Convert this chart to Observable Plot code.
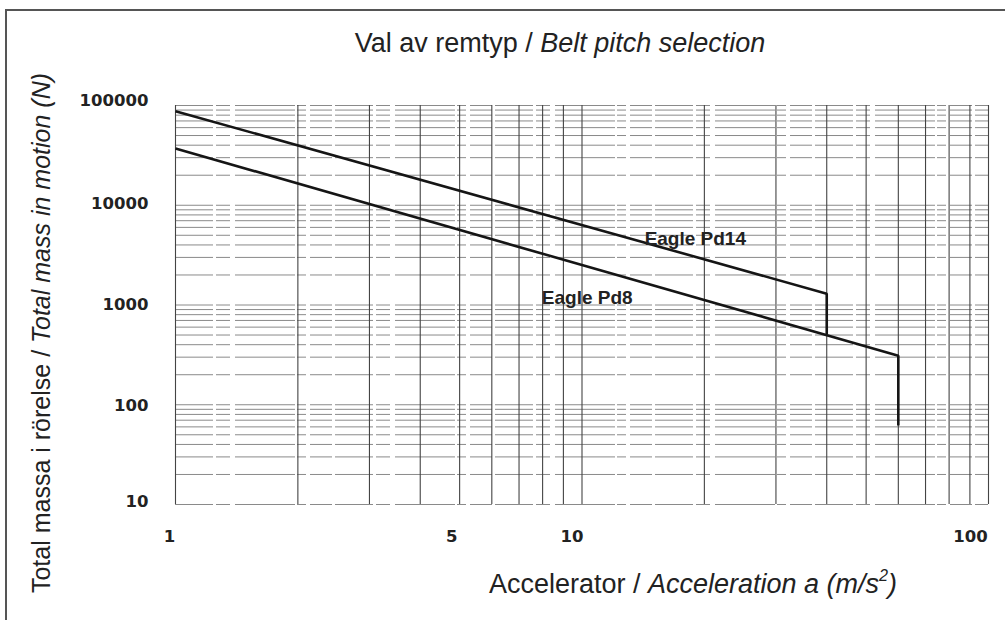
<!DOCTYPE html>
<html>
<head>
<meta charset="utf-8">
<script src="https://cdn.jsdelivr.net/npm/d3@7"></script>
<script src="https://cdn.jsdelivr.net/npm/@observablehq/plot@0.6"></script>
<style>
  html, body { margin: 0; padding: 0; background: #fff; }
  #wrap { position: relative; width: 1005px; height: 620px; overflow: hidden; background: #fff;
          font-family: "Liberation Sans", Arial, sans-serif; color: #222; }
  #frameL { position: absolute; left: 5px; top: 9px; width: 2px; height: 620px; background: #555; }
  #frameT { position: absolute; left: 5px; top: 9px; width: 1000px; height: 2px; background: #555; }
  .ttl { position: absolute; font-size: 27px; line-height: 27px; white-space: nowrap; }
  #title { left: 560px; top: 30px; transform: translateX(-50%); }
  #xtitle { left: 693px; top: 571px; transform: translateX(-50%); }
  #ytitle { left: 41px; top: 333px; font-size: 25px; line-height: 25px; transform: translate(-50%, -50%) rotate(-90deg); }
  #chart { position: absolute; left: 0; top: 0; }
  sup { font-size: 60%; line-height: 0; vertical-align: 0.75em; }
</style>
</head>
<body>
<div id="wrap">
  <div id="chart"></div>
  <div id="frameL"></div>
  <div id="frameT"></div>
  <div class="ttl" id="title">Val av remtyp / <i>Belt pitch selection</i></div>
  <div class="ttl" id="ytitle">Total massa i rörelse / <i>Total mass in motion (N)</i></div>
  <div class="ttl" id="xtitle">Accelerator / <i>Acceleration a (m/s<sup>2</sup>)</i></div>
</div>
<script>
// ---- data ----
const seriesNames = ["Eagle Pd14", "Eagle Pd8"];
const pd14Accel = [1, 40, 40];
const pd14Mass  = [87700, 1300, 510];
const pd8Accel  = [1, 60, 60];
const pd8Mass   = [37100, 310, 62];

const labelText  = ["Eagle Pd14", "Eagle Pd8"];
const labelAccel = [19.0, 10.3];
const labelMass  = [4650, 1190];

const xDomain = [1, 100];
const yDomain = [10, 100000];
const xTickLabels = [1, 5, 10, 100];
const yTickLabels = [10, 100, 1000, 10000, 100000];
// the printed tick labels sit slightly off their grid lines in the original
const xTickShift = [-6, -8, -10, -18];
const yTickShift = [-3, 1, 0, -2, -5];

// ---- build rows ----
const rows = [
  ...pd14Accel.map((a, i) => ({s: seriesNames[0], a, m: pd14Mass[i]})),
  ...pd8Accel.map((a, i) => ({s: seriesNames[1], a, m: pd8Mass[i]}))
];
const labels = labelText.map((t, i) => ({t, a: labelAccel[i], m: labelMass[i]}));

const xGrid = d3.scaleLog().domain(xDomain).ticks();
const yGrid = d3.scaleLog().domain(yDomain).ticks();

const tickFont = { fontSize: 16.5, fontWeight: "bold", fontFamily: "DejaVu Sans, sans-serif",
                   fill: "#222", tickSize: 0, label: null, tickFormat: d => String(d) };

const chart = Plot.plot({
  width: 1005,
  height: 620,
  marginLeft: 175,
  marginRight: 17,
  marginTop: 105,
  marginBottom: 116,
  style: { background: "transparent", fontFamily: "DejaVu Sans, sans-serif", color: "#222" },
  x: { type: "log", domain: xDomain },
  y: { type: "log", domain: yDomain },
  marks: [
    Plot.gridY({ ticks: yGrid, stroke: "#8a8a8a", strokeOpacity: 1, strokeWidth: 1,
                 strokeDasharray: "38,3,14,5,60,2,9,4,22,3" }),
    Plot.gridX({ ticks: xGrid, stroke: "#444", strokeOpacity: 1, strokeWidth: 1.1 }),
    Plot.line(rows, { x: "a", y: "m", z: "s", stroke: "#151515", strokeWidth: 2.6,
                      strokeLinejoin: "miter", strokeLinecap: "butt" }),
    Plot.text(labels, { x: "a", y: "m", text: "t", fontFamily: "Liberation Sans, Arial, sans-serif",
                        fontWeight: "bold", fontSize: 19, fill: "#222" }),
    ...xTickLabels.map((t, i) => Plot.axisX({ ...tickFont, ticks: [t], tickPadding: 26, dx: xTickShift[i] })),
    ...yTickLabels.map((t, i) => Plot.axisY({ ...tickFont, ticks: [t], tickPadding: 27, dy: yTickShift[i] }))
  ]
});
document.getElementById("chart").appendChild(chart);
</script>
</body>
</html>
